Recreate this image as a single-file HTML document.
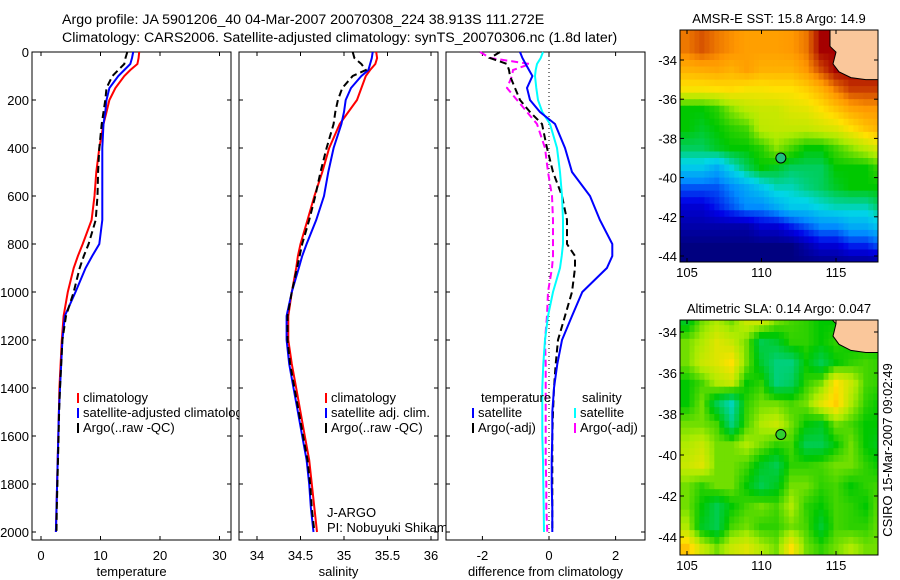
<!DOCTYPE html>
<html><head><meta charset="utf-8"><style>
html,body{margin:0;padding:0;background:#fff;}
svg{display:block;font-family:"Liberation Sans",sans-serif;}
text{font-size:13px;fill:#000;}
text.ttl{font-size:14.2px;}
</style></head><body>
<svg id="chart" width="900" height="580" viewBox="0 0 900 580">
<text class="ttl" x="62" y="24">Argo profile: JA 5901206_40 04-Mar-2007 20070308_224 38.913S 111.272E</text>
<text class="ttl" x="62" y="42">Climatology: CARS2006. Satellite-adjusted climatology: synTS_20070306.nc (1.8d later)</text>
</svg>
<script>
// ---------- data ----------
const depths = [0,25,50,75,100,150,200,250,300,400,500,600,700,800,850,900,1000,1100,1200,1300,1400,1500,1600,1700,1800,1900,2000];
const tempClim = [16.5,16.4,16.2,15,14,12.5,11.5,11,10.5,9.8,9.3,9.0,8.5,7,6.2,5.5,4.5,3.8,3.5,3.3,3.1,3.0,2.9,2.8,2.7,2.6,2.5];
const tempSat  = [15.5,15.3,15,14,13,11.5,11,10.8,10.5,10.3,10.3,10.3,10.3,9.8,8.6,7.5,5.8,4.0,3.6,3.4,3.2,3.0,2.9,2.8,2.7,2.6,2.5];
const tempArgo = [14.5,14.2,14,13,12,11,10.8,10.5,10.2,9.8,9.6,9.5,9.2,8,7.2,6.5,5.5,4.2,3.6,3.4,3.2,3.05,2.95,2.85,2.75,2.65,2.6];
const salClim = [35.37,35.38,35.36,35.3,35.25,35.2,35.15,35.05,34.95,34.83,34.75,34.66,34.58,34.5,34.47,34.45,34.4,34.36,34.36,34.4,34.45,34.5,34.55,34.6,34.63,34.66,34.69];
const salSat  = [35.33,35.32,35.3,35.28,35.2,35.08,35.02,35.0,34.97,34.88,34.82,34.77,34.68,34.57,34.52,34.48,34.4,34.34,34.34,34.37,34.42,34.47,34.52,34.57,34.6,34.62,34.65];
const salArgo = [35.1,35.12,35.2,35.25,35.1,34.98,34.93,34.9,34.88,34.8,34.73,34.67,34.6,34.52,34.49,34.46,34.4,34.35,34.35,34.38,34.43,34.48,34.53,34.58,34.61,34.63,34.66];
const dTempSat  = [-0.87,-0.8,-0.7,-0.6,-0.5,-0.66,-0.57,-0.27,0.18,0.48,0.69,1.23,1.53,1.9,1.9,1.74,1.0,0.69,0.39,0.25,0.15,0.1,0.1,0.08,0.08,0.1,0.1];
const dSalSat   = [-0.18,-0.25,-0.36,-0.4,-0.42,-0.38,-0.33,-0.2,0.03,0.24,0.33,0.39,0.42,0.42,0.38,0.33,0.12,-0.03,-0.12,-0.17,-0.2,-0.2,-0.2,-0.18,-0.17,-0.16,-0.15];
const dTempArgo = [-1.47,-1.77,-1.26,-1.2,-1.17,-1.02,-0.87,-0.57,-0.21,-0.06,0.12,0.39,0.54,0.54,0.78,0.78,0.69,0.48,0.27,0.2,0.15,0.12,0.1,0.1,0.1,0.1,0.1];
const dSalArgo  = [-2.07,-1.77,-0.57,-1.08,-1.11,-1.26,-0.96,-0.66,-0.36,-0.12,-0.03,0.09,0.12,0.12,0.12,0.09,-0.03,-0.06,-0.12,-0.1,-0.1,-0.1,-0.1,-0.1,-0.08,-0.08,-0.05];
const depthTicks = [0,200,400,600,800,1000,1200,1400,1600,1800,2000];
const tempTicks = [0,10,20,30];
const salTicks = [34,34.5,35,35.5,36];
const diffTicks = [-2,0,2];
const lonTicks = [105,110,115];
const latTicks = [-34,-36,-38,-40,-42,-44];
const sstGrid = [
[19,19.3,19,18.8,18.6,18.6,18.6,18.7,19,20,20,20,20,20],
[18.3,18.4,18.5,18.3,18.6,18.3,18.3,18.3,18.7,19.4,20,20,20,20],
[17.4,17.4,17.5,17.6,17.4,17.4,17.5,17.5,17.8,18.3,19,19.5,19.5,19.5],
[15,15,15.3,16,16.5,16.7,16.7,17,17.1,17.5,18,18.5,18.7,18.7],
[15,14.8,15,15.3,15.5,16.5,16.6,16.6,16.6,16.8,17,17.5,18,18.3],
[14.5,14.5,14.8,15,15,15.3,16,15.5,15,15,15.5,16,16.5,17],
[13.5,13.5,13,13.8,14.5,15,14.8,14.5,14.5,14.5,15,15,15,15.5],
[12,12,12,12.5,13,13.5,14,14,14.3,14.5,14.8,15,15,15],
[11,11,11.5,12,12.5,12.5,13,13.5,13.5,13.8,14,14,14,14.5],
[10.5,10.5,10.5,10.5,10.5,11,11,11.5,12,12.5,12.5,13,13,13.5],
[10,10,10,10,10,10,10,10,10.5,11,11,11.5,11.5,12],
[10,10,10,10,10,10,10,10,10,10,10,10,10,10]];
const slaGrid = [
[-0.02,0.05,0.08,0.05,0.1,0.1,0.05,0.03,0.02,0,0,0,0,0],
[0.05,0.08,0.12,0.1,0.05,-0.05,-0.03,0.02,0.02,0,0.02,0,0,0],
[0.05,0.1,0.12,0.15,0.05,-0.03,-0.08,-0.08,0,-0.05,0,0.02,0.03,0.02],
[0,0.03,0.08,0.1,0,0.02,-0.08,-0.06,0.02,0.05,0.15,0.1,0.03,0.02],
[0,0.05,-0.05,-0.12,0.02,0.05,0.05,0.03,0.05,0.12,0.17,0.08,0.02,0],
[0.05,0.05,0.03,-0.08,0.03,0.08,0.1,0.05,0,-0.02,0.05,0.03,0,0],
[0.08,0.1,0.05,0.05,0.08,0.05,0.02,0.03,-0.05,-0.05,0,0.05,0,-0.02],
[0.1,0.12,0.05,0.05,0.03,-0.02,-0.05,0.02,0.02,0.03,0.05,0.05,0.02,0],
[0.05,0.02,0.05,0.05,0,-0.05,-0.02,0.05,0.05,0.02,0.03,0,0.02,0.03],
[0.05,0,-0.05,0,0.03,0.05,0.03,0.08,0.02,0,0.03,0.02,0,0.05],
[0.08,-0.02,-0.05,0.03,0.05,0.02,0.02,0.05,0.03,-0.03,0.03,0.02,0.02,0.05],
[0.18,0.1,0.05,0.1,0.12,0.08,0.05,0.15,0.05,0.02,0.05,0.08,0.05,0.05]];
const gridLon0 = 104.5, gridLat0 = -33;
const argoLon = 111.3, argoLat = -39;
// ---------- helpers ----------
const svg = document.getElementById('chart');
const NS = 'http://www.w3.org/2000/svg';
function mk(tag, attrs, parent){ const e=document.createElementNS(NS,tag); for(const k in attrs) e.setAttribute(k,attrs[k]); (parent||svg).appendChild(e); return e; }
const PT=52, PB=540;
const yD = d => 52 + d*48/200;
function lin(d0,d1,r0,r1){ return v => r0 + (v-d0)*(r1-r0)/(d1-d0); }
const panels = [
  {x0:32,x1:231,sx:lin(0,10,41,100.5),ticks:tempTicks,label:'temperature',name:'temperature'},
  {x0:239,x1:438,sx:lin(34,35,257,344),ticks:salTicks,label:'salinity',name:'salinity'},
  {x0:446,x1:645,sx:lin(0,2,549,615.6),ticks:diffTicks,label:'difference from climatology',name:'difference'}];
function drawPanel(p,i){
  const g = mk('g',{});
  
  
  const r = mk('rect',{x:p.x0,y:PT,width:p.x1-p.x0,height:PB-PT,fill:'#fff',stroke:'#000','stroke-width':1},g);
  
  
  depthTicks.forEach(d=>{
    const y=yD(d);
    mk('line',{x1:p.x0,x2:p.x0+4,y1:y,y2:y,stroke:'#000'},g);
    mk('line',{x1:p.x1-4,x2:p.x1,y1:y,y2:y,stroke:'#000'},g);
    if(i===0){ const t=mk('text',{x:29,y:y+5,'text-anchor':'end'},g); t.textContent=d;
      
       }
  });
  p.ticks.forEach(v=>{
    const x=p.sx(v);
    mk('line',{x1:x,x2:x,y1:PT,y2:PT+4,stroke:'#000'},g);
    mk('line',{x1:x,x2:x,y1:PB-4,y2:PB,stroke:'#000'},g);
    const t=mk('text',{x:x,y:560,'text-anchor':'middle'},g); t.textContent=v;
    
    
  });
  const xl=mk('text',{x:(p.x0+p.x1)/2,y:576,'text-anchor':'middle'},g); xl.textContent=p.label;
  
  
  return g;
}
function series(p,vals,color,dash,name,w){
  const pts = vals.map((v,k)=>p.sx(v).toFixed(1)+','+yD(depths[k]).toFixed(1)).join(' ');
  const l = mk('polyline',{points:pts,fill:'none',stroke:color,'stroke-width':w||2,'stroke-dasharray':dash||'none'});
  
  
}
function legend(x,y,color,dash,label,name){
  mk('line',{x1:x,x2:x,y1:y-9,y2:y+1,stroke:color,'stroke-width':2});
  const t=mk('text',{x:x+5,y:y}); t.textContent=label;
  
  
}
// panel 1
drawPanel(panels[0],0);
series(panels[0],tempClim,'#ff0000',null,'temp-climatology-line');
series(panels[0],tempSat,'#0000ff',null,'temp-satellite-line');
series(panels[0],tempArgo,'#000',"7,4",'temp-argo-line');
legend(78,402,'#ff0000',null,'climatology','legend-climatology');
legend(78,417,'#0000ff',null,'satellite-adjusted climatology','legend-satellite-adjusted');
legend(78,432,'#000',null,'Argo(..raw -QC)','legend-argo');
// panel 2
drawPanel(panels[1],1);
series(panels[1],salClim,'#ff0000',null,'sal-climatology-line');
series(panels[1],salSat,'#0000ff',null,'sal-satellite-line');
series(panels[1],salArgo,'#000',"7,4",'sal-argo-line');
legend(326,402,'#ff0000',null,'climatology','legend-sal-climatology');
legend(326,417,'#0000ff',null,'satellite adj. clim.','legend-sal-satellite');
legend(326,432,'#000',null,'Argo(..raw -QC)','legend-sal-argo');
const j1=mk('text',{x:327,y:517}); j1.textContent='J-ARGO';
 
const j2=mk('text',{x:327,y:532}); j2.textContent='PI: Nobuyuki Shikama';
 
// panel 3
drawPanel(panels[2],2);
const z=panels[2].sx(0);
const zl=mk('line',{x1:z,x2:z,y1:PT,y2:PB,stroke:'#000','stroke-dasharray':'1,3'});
 
series(panels[2],dSalArgo,'#ff00ff',"7,4",'diff-sal-argo-line');
series(panels[2],dTempArgo,'#000',"7,4",'diff-temp-argo-line');
series(panels[2],dSalSat,'#00ffff',null,'diff-sal-satellite-line');
series(panels[2],dTempSat,'#0000ff',null,'diff-temp-satellite-line');
const tl=mk('text',{x:481,y:402}); tl.textContent='temperature';
 
legend(473,417,'#0000ff',null,'satellite','legend-diff-temp-satellite');
legend(473,432,'#000',null,'Argo(-adj)','legend-diff-temp-argo');
const sl=mk('text',{x:582,y:402}); sl.textContent='salinity';
 
legend(575,417,'#00ffff',null,'satellite','legend-diff-sal-satellite');
legend(575,432,'#ff00ff',null,'Argo(-adj)','legend-diff-sal-argo');
// ---------- maps ----------
const PAL=[[0,0,128],[0,0,230],[0,140,255],[0,215,230],[0,200,0],[170,235,0],[255,225,0],[255,150,0],[165,0,0]];
function cmap(v){ v=Math.max(0,Math.min(1,v))*(PAL.length-1); const i=Math.min(PAL.length-2,Math.floor(v)), f=v-i;
  const c=PAL[i].map((a,k)=>Math.round(a+(PAL[i+1][k]-a)*f)); return 'rgb('+c.join(',')+')'; }
function sample(grid,r,c){ // bilinear
  const R=grid.length-1, C=grid[0].length-1;
  r=Math.max(0,Math.min(R,r)); c=Math.max(0,Math.min(C,c));
  const r0=Math.min(R-1,Math.floor(r)), c0=Math.min(C-1,Math.floor(c)), fr=r-r0, fc=c-c0;
  return grid[r0][c0]*(1-fr)*(1-fc)+grid[r0][c0+1]*(1-fr)*fc+grid[r0+1][c0]*fr*(1-fc)+grid[r0+1][c0+1]*fr*fc;
}
function drawMap(m){
  const sx=lin(105,115,687,836), sy=lin(-34,-44,m.y34,m.y44);
  const g=mk('g',{});
  
  
  const cid='clip'+m.name;
  const cp=mk('clipPath',{id:cid},g); mk('rect',{x:680,y:m.top,width:198,height:m.bot-m.top},cp);
  const cells=mk('g',{'clip-path':'url(#'+cid+')'},g);
  const S=3, rows=m.grid.length, cols=m.grid[0].length;
  for(let r=-S;r<(rows+1)*S;r++) for(let c=-S;c<(cols+1)*S;c++){
    const v=sample(m.grid,(r+0.5)/S-0.5,(c+0.5)/S-0.5);
    const x0=sx(gridLon0+c/S), x1=sx(gridLon0+(c+1)/S), y0=sy(gridLat0-r/S), y1=sy(gridLat0-(r+1)/S);
    if(x1<680||x0>878||y1<m.top||y0>m.bot) continue;
    const cell=mk('rect',{x:x0.toFixed(1),y:y0.toFixed(1),width:(x1-x0+0.6).toFixed(1),height:(y1-y0+0.6).toFixed(1),fill:cmap(m.norm(v))},cells);
    
    
  }
  const land=[[114.6,-32],[114.6,-33.3],[115.0,-33.6],[114.8,-34.2],[115.2,-34.6],[116,-34.9],[117,-35],[118,-35],[118,-32]];
  const lp=land.map(p=>sx(p[0]).toFixed(1)+','+sy(p[1]).toFixed(1)).join(' ');
  const lnd=mk('polygon',{points:lp,fill:'#fac79b',stroke:'#000','stroke-width':1},cells);
   
  mk('rect',{x:680,y:m.top,width:198,height:m.bot-m.top,fill:'none',stroke:'#000'},g);
  latTicks.forEach(l=>{ const y=sy(l);
    mk('line',{x1:680,x2:684,y1:y,y2:y,stroke:'#000'},g); mk('line',{x1:874,x2:878,y1:y,y2:y,stroke:'#000'},g);
    const t=mk('text',{x:677,y:y+5,'text-anchor':'end'},g); t.textContent=l;
      });
  lonTicks.forEach(l=>{ const x=sx(l);
    mk('line',{x1:x,x2:x,y1:m.bot-4,y2:m.bot,stroke:'#000'},g); mk('line',{x1:x,x2:x,y1:m.top,y2:m.top+4,stroke:'#000'},g);
    const t=mk('text',{x:x,y:m.bot+15,'text-anchor':'middle'},g); t.textContent=l;
      });
  const mk1=mk('circle',{cx:sx(argoLon),cy:sy(argoLat),r:5,fill:m.markerFill,stroke:'#000'},g);
   
  const tt=mk('text',{x:779,y:m.top-7,'text-anchor':'middle'},g); tt.textContent=m.title;
   
}
drawMap({name:'sst-map',grid:sstGrid,norm:v=>(v-10)/10,top:30,bot:262,y34:60,y44:256,title:'AMSR-E SST: 15.8 Argo: 14.9',markerFill:'#20c080'});
drawMap({name:'sla-map',grid:slaGrid,norm:v=>v>=0?0.5+v/0.3*0.5:0.5+v/0.6*0.5,top:320,bot:555,y34:332,y44:537,title:'Altimetric SLA: 0.14 Argo: 0.047',markerFill:'#30d030'});
const side=mk('text',{x:892,y:450,'text-anchor':'middle',transform:'rotate(-90 892 450)'});
side.textContent='CSIRO 15-Mar-2007 09:02:49';
 
</script>
</body></html>
